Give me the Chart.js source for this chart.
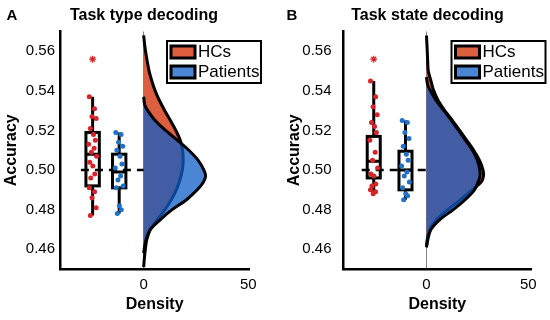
<!DOCTYPE html>
<html>
<head>
<meta charset="utf-8">
<script src="https://cdn.jsdelivr.net/npm/chart.js@4/dist/chart.umd.min.js"></script>
<style>
  html, body { margin: 0; padding: 0; background: #fff; }
  #wrap { position: relative; width: 550px; height: 320px; }
  #wrap canvas { position: absolute; top: 0; }
</style>
</head>
<body>
<div id="wrap">
  <canvas id="chartA" width="275" height="320" style="left:0"></canvas>
  <canvas id="chartB" width="275" height="320" style="left:275px"></canvas>
</div>
<script>
const groups = ['HCs', 'Patients'];
const yTicks = [0.46, 0.48, 0.50, 0.52, 0.54, 0.56];
const xTicks = [0, 50];
const chance = 0.5;

// Task type decoding - density curves (accuracy -> density)
const typeHcAcc = [0.568, 0.564, 0.560, 0.555, 0.550, 0.545, 0.540, 0.535, 0.530, 0.525, 0.520, 0.515, 0.510, 0.505, 0.500, 0.495, 0.490, 0.485, 0.480, 0.475, 0.470, 0.465, 0.460, 0.455, 0.451];
const typeHcDen = [0, 0.4, 0.9, 1.7, 2.6, 3.9, 5.5, 7.6, 10.1, 12.8, 15.4, 17.5, 18.6, 18.9, 18.5, 17.3, 15.6, 13.2, 10.2, 6.6, 3.2, 1.5, 0.8, 0.3, 0];
const typePatAcc = [0.537, 0.533, 0.530, 0.525, 0.520, 0.515, 0.510, 0.505, 0.500, 0.497, 0.494, 0.490, 0.485, 0.480, 0.475, 0.470, 0.465, 0.461, 0.458];
const typePatDen = [0, 0.5, 2.0, 5.5, 10.5, 16.2, 21.6, 26.0, 28.8, 29.6, 28.6, 25.6, 20.5, 13.6, 8.0, 3.2, 1.2, 0.4, 0];
// individual accuracies
const typeHcDots = [0.537, 0.531, 0.527, 0.526, 0.521, 0.518, 0.515, 0.513, 0.511, 0.509, 0.507, 0.504, 0.502, 0.498, 0.496, 0.491, 0.489, 0.486, 0.481, 0.477];
const typePatDots = [0.519, 0.518, 0.514, 0.512, 0.510, 0.507, 0.503, 0.501, 0.497, 0.495, 0.492, 0.491, 0.482, 0.480, 0.478];
// box stats: lower whisker, q1, median, q3, upper whisker
const typeHcBox = [0.477, 0.492, 0.508, 0.519, 0.537];
const typePatBox = [0.478, 0.491, 0.499, 0.508, 0.519];
const typeHcOut = [0.556];

// Task state decoding
const stateHcAcc = [0.568, 0.560, 0.555, 0.550, 0.545, 0.540, 0.535, 0.530, 0.525, 0.520, 0.515, 0.510, 0.505, 0.500, 0.497, 0.494, 0.490, 0.485, 0.480, 0.475, 0.470, 0.465, 0.461];
const stateHcDen = [0, 0.4, 0.6, 0.9, 2.2, 3.6, 5.8, 9.0, 12.8, 16.3, 19.8, 23.2, 26.0, 27.8, 28.0, 27.0, 22.5, 16.8, 10.5, 5.0, 1.6, 0.4, 0];
const statePatAcc = [0.547, 0.543, 0.540, 0.535, 0.530, 0.525, 0.520, 0.515, 0.510, 0.505, 0.500, 0.497, 0.494, 0.490, 0.485, 0.480, 0.475, 0.470, 0.465, 0.461];
const statePatDen = [0, 0.6, 2.0, 4.8, 8.6, 12.3, 15.8, 19.2, 22.6, 25.0, 26.2, 26.3, 25.4, 23.6, 19.0, 13.2, 6.6, 2.2, 0.7, 0];
const stateHcDots = [0.545, 0.537, 0.532, 0.528, 0.524, 0.522, 0.519, 0.515, 0.509, 0.505, 0.501, 0.498, 0.497, 0.493, 0.492, 0.490, 0.489, 0.488];
const statePatDots = [0.525, 0.524, 0.519, 0.516, 0.512, 0.508, 0.505, 0.502, 0.499, 0.497, 0.494, 0.491, 0.488, 0.487, 0.485];
const stateHcBox = [0.488, 0.496, 0.5045, 0.517, 0.545];
const statePatBox = [0.485, 0.490, 0.500, 0.5095, 0.525];
const stateHcOut = [0.556];

const hcFill = 'rgb(222, 94, 64)';
const patFill = 'rgba(13, 93, 197, 0.75)';
const hcDot = '#d5252a';
const patDot = '#1f72c8';
const FONT = '"Liberation Sans", Arial, sans-serif';

// small horizontal spread of the raw points around the box
const jitter = [-1.6, 0.9, -0.3, 1.7, -1.1, 0.4, 1.3, -1.9, 0.7, -0.6, 1.9, -1.4, 0.1, 1.0, -0.9];

function curve(acc, den) {
    return acc.map((a, i) => ({ x: den[i], y: a }));
}
function dots(vals, pos) {
    return vals.map((v, i) => ({ x: pos + jitter[i % jitter.length], y: v }));
}

// box plots drawn from the stats through the chart scales
const boxPlugin = {
    id: 'boxes',
    beforeDatasetsDraw(chart, args, opts) {
        const { ctx, scales: { x, y } } = chart;
        ctx.save();
        ctx.strokeStyle = '#000';
        ctx.lineWidth = 3;
        opts.items.forEach((b) => {
            const cx = x.getPixelForValue(b.pos);
            const l = x.getPixelForValue(b.pos - opts.half);
            const r = x.getPixelForValue(b.pos + opts.half);
            const [lo, q1, med, q3, hi] = b.stats.map((v) => y.getPixelForValue(v));
            ctx.beginPath();
            ctx.moveTo(cx, lo); ctx.lineTo(cx, q1);
            ctx.moveTo(cx, q3); ctx.lineTo(cx, hi);
            ctx.moveTo(l, med); ctx.lineTo(r, med);
            ctx.stroke();
            ctx.strokeRect(l, q3, r - l, q1 - q3);
        });
        ctx.restore();
    }
};

const frameLegend = {
    id: 'frameLegend',
    afterDraw(chart, args, o) {
        const { ctx } = chart;
        const sets = chart.data.datasets.slice(0, 2);
        ctx.save();
        ctx.fillStyle = '#fff';
        ctx.fillRect(o.x, o.y, o.w, o.h);
        ctx.lineWidth = 2;
        ctx.strokeStyle = '#000';
        ctx.strokeRect(o.x, o.y, o.w, o.h);
        ctx.font = '17px ' + FONT;
        ctx.textBaseline = 'middle';
        sets.forEach((ds, i) => {
            const top = o.y + 5 + i * 20;
            ctx.fillStyle = ds.backgroundColor;
            ctx.fillRect(o.x + 4, top, 24, 12);
            ctx.lineWidth = 3;
            ctx.strokeRect(o.x + 4, top, 24, 12);
            ctx.fillStyle = '#000';
            ctx.fillText(ds.label, o.x + 31, top + 6.5);
        });
        ctx.restore();
    }
};

const panelTitle = {
    id: 'panelTitle',
    afterDraw(chart, args, o) {
        const { ctx } = chart;
        ctx.save();
        ctx.fillStyle = '#000';
        ctx.textBaseline = 'alphabetic';
        ctx.font = 'bold 15px ' + FONT;
        ctx.textAlign = 'left';
        ctx.fillText(o.letter, o.letterX, 19.5);
        ctx.font = 'bold 16px ' + FONT;
        ctx.textAlign = 'center';
        ctx.fillText(o.text, o.textX, 20);
        ctx.restore();
    }
};

function makePanel(p) {
    const ctx = document.getElementById(p.canvas).getContext('2d');
    return new Chart(ctx, {
        type: 'line',
        data: {
            datasets: [
                { label: groups[0], data: curve(p.hcAcc, p.hcDen), backgroundColor: hcFill, borderColor: '#000', borderWidth: 3, fill: 'origin', pointRadius: 0, tension: 0.3, order: 5 },
                { label: groups[1], data: curve(p.patAcc, p.patDen), backgroundColor: patFill, borderColor: '#000', borderWidth: 3, fill: 'origin', pointRadius: 0, tension: 0.3, order: 4 },
                { label: 'chance', data: [{ x: p.dashFrom, y: chance }, { x: 0, y: chance }], borderColor: '#000', borderWidth: 2.5, borderDash: [8, 6], pointRadius: 0, fill: false, tension: 0, order: 3 },
                { type: 'scatter', label: 'HC points', data: dots(p.hcDots, p.pos[0]), backgroundColor: hcDot, borderWidth: 0, pointRadius: 2.5, order: 2 },
                { type: 'scatter', label: 'Patient points', data: dots(p.patDots, p.pos[1]), backgroundColor: patDot, borderWidth: 0, pointRadius: 2.5, order: 1 },
                { type: 'scatter', label: 'outlier', data: p.hcOut.map((v) => ({ x: p.pos[0], y: v })), pointStyle: 'star', pointRadius: 3.5, borderColor: hcDot, borderWidth: 1.2, order: 0 }
            ]
        },
        options: {
            indexAxis: 'y',
            responsive: false,
            animation: false,
            devicePixelRatio: 1,
            layout: { padding: { top: 31.5, right: p.padRight, left: 0, bottom: 0 } },
            scales: {
                x: {
                    type: 'linear',
                    position: 'bottom',
                    min: p.xMin,
                    max: p.xMax,
                    afterBuildTicks: (s) => { s.ticks = xTicks.map((v) => ({ value: v })); },
                    afterFit: (s) => { s.height = 51; },
                    grid: {
                        display: true,
                        drawTicks: false,
                        lineWidth: 1,
                        color: (c) => (c.tick && c.tick.value === 0 ? '#808080' : 'rgba(0,0,0,0)')
                    },
                    border: { display: true, color: '#000', width: 2.5 },
                    ticks: { color: '#000', padding: 7, font: { family: FONT, size: 15 } },
                    title: { display: true, text: 'Density', color: '#000', padding: { bottom: 6, top: 0 }, font: { family: FONT, size: 16, weight: 'bold' } }
                },
                y: {
                    type: 'linear',
                    position: 'left',
                    min: 0.45,
                    max: 0.57,
                    afterBuildTicks: (s) => { s.ticks = yTicks.map((v) => ({ value: v })); },
                    afterFit: (s) => { s.width = p.yWidth; },
                    grid: { display: false, drawTicks: false },
                    border: { display: true, color: '#000', width: 2.5 },
                    ticks: { color: '#000', padding: p.tickPad, font: { family: FONT, size: 15 }, callback: (v) => Number(v).toFixed(2) },
                    title: { display: true, text: 'Accuracy', color: '#000', padding: { top: p.yTitlePad, bottom: 0 }, font: { family: FONT, size: 16, weight: 'bold' } }
                }
            },
            plugins: {
                legend: { display: false },
                tooltip: { enabled: false },
                boxes: { half: 3.2, items: [{ pos: p.pos[0], stats: p.hcBox }, { pos: p.pos[1], stats: p.patBox }] },
                frameLegend: { x: p.legendX, y: 41, w: 94, h: 42 },
                panelTitle: { letter: p.letter, letterX: p.letterX, text: p.title, textX: p.titleX }
            }
        },
        plugins: [boxPlugin, frameLegend, panelTitle]
    });
}

makePanel({
    canvas: 'chartA', letter: 'A', letterX: 6.5, title: 'Task type decoding', titleX: 144,
    xMin: -40, xMax: 50.5, yWidth: 60, tickPad: 5, yTitlePad: 2.4, padRight: 25.7,
    pos: [-24.4, -11.7], dashFrom: -30, legendX: 167,
    hcAcc: typeHcAcc, hcDen: typeHcDen, patAcc: typePatAcc, patDen: typePatDen,
    hcDots: typeHcDots, patDots: typePatDots, hcBox: typeHcBox, patBox: typePatBox, hcOut: typeHcOut
});

makePanel({
    canvas: 'chartB', letter: 'B', letterX: 11.5, title: 'Task state decoding', titleX: 152.5,
    xMin: -41, xMax: 51.7, yWidth: 68, tickPad: 11.5, yTitlePad: 10.4, padRight: 18.3,
    pos: [-25.9, -10.3], dashFrom: -31.8, legendX: 176.5,
    hcAcc: stateHcAcc, hcDen: stateHcDen, patAcc: statePatAcc, patDen: statePatDen,
    hcDots: stateHcDots, patDots: statePatDots, hcBox: stateHcBox, patBox: statePatBox, hcOut: stateHcOut
});
</script>
</body>
</html>
